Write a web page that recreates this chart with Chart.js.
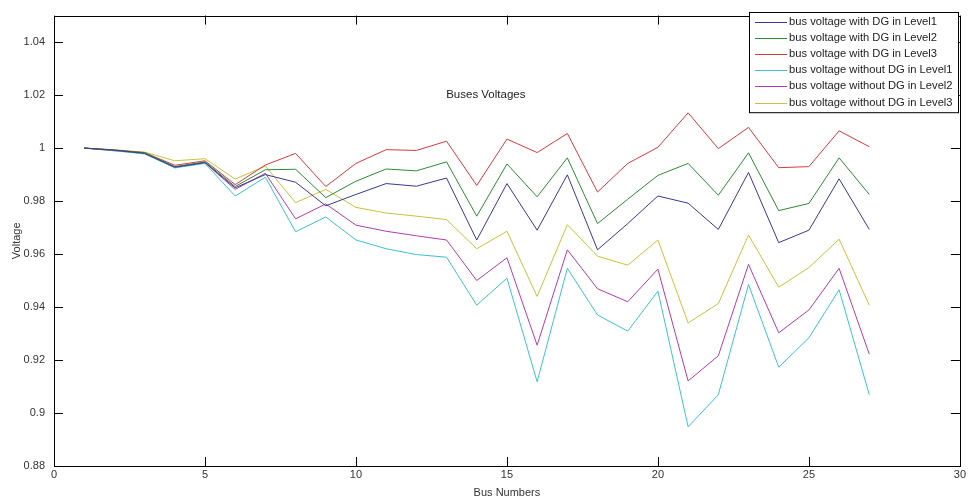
<!DOCTYPE html>
<html>
<head>
<meta charset="utf-8">
<script src="https://cdn.jsdelivr.net/npm/chart.js@4.4.1/dist/chart.umd.min.js"></script>
<style>
  html, body { margin: 0; padding: 0; background: #fff; }
  #wrap { width: 968px; height: 504px; }
</style>
</head>
<body>
<div id="wrap"><canvas id="busChart" width="968" height="504"></canvas></div>
<script>
// bus numbers
const buses = [1, 2, 3, 4, 5, 6, 7, 8, 9, 10, 11, 12, 13, 14, 15, 16, 17, 18, 19, 20, 21, 22, 23, 24, 25, 26, 27];

// voltages
const withDG1 = [1.0, 0.9992, 0.998, 0.9928, 0.9945, 0.985, 0.990, 0.9871, 0.9782, 0.9825, 0.9866, 0.9856, 0.9887, 0.9653, 0.9866, 0.969, 0.9899, 0.9616, 0.9715, 0.9819, 0.9792, 0.9693, 0.9908, 0.9643, 0.969, 0.9884, 0.9693];
const withDG2 = [1.0, 0.9992, 0.9982, 0.993, 0.9948, 0.9855, 0.9918, 0.992, 0.9813, 0.9875, 0.9921, 0.9914, 0.9948, 0.9743, 0.994, 0.9816, 0.9963, 0.9715, 0.9807, 0.9897, 0.9942, 0.9822, 0.9982, 0.9764, 0.9791, 0.9963, 0.9825];
const withDG3 = [1.0, 0.9993, 0.9983, 0.9935, 0.9952, 0.9862, 0.9936, 0.998, 0.9855, 0.9942, 0.9994, 0.9991, 1.0026, 0.9859, 1.0034, 0.9983, 1.0055, 0.9834, 0.9942, 1.0003, 1.0133, 0.9998, 1.0078, 0.9926, 0.993, 1.0065, 1.0005];
const withoutDG1 = [1.0, 0.999, 0.9978, 0.9925, 0.9942, 0.9819, 0.989, 0.9684, 0.974, 0.9653, 0.962, 0.9598, 0.9588, 0.9407, 0.9509, 0.9118, 0.9546, 0.937, 0.9309, 0.946, 0.8948, 0.9069, 0.9485, 0.9173, 0.9284, 0.9465, 0.9069];
const withoutDG2 = [1.0, 0.999, 0.998, 0.9927, 0.9945, 0.9844, 0.9905, 0.9733, 0.9789, 0.9709, 0.9686, 0.9669, 0.9653, 0.95, 0.9586, 0.9256, 0.9616, 0.9469, 0.942, 0.9543, 0.9121, 0.9216, 0.9561, 0.9303, 0.9389, 0.9546, 0.9222];
const withoutDG3 = [1.0, 0.9993, 0.9985, 0.9952, 0.996, 0.9883, 0.9932, 0.9794, 0.9844, 0.9776, 0.9755, 0.9743, 0.973, 0.962, 0.9686, 0.944, 0.9711, 0.9592, 0.9558, 0.9653, 0.934, 0.9413, 0.9672, 0.9475, 0.9549, 0.9656, 0.9407];

const seriesLabels = [
  'bus voltage with DG in Level1',
  'bus voltage with DG in Level2',
  'bus voltage with DG in Level3',
  'bus voltage without DG in Level1',
  'bus voltage without DG in Level2',
  'bus voltage without DG in Level3'
];
const seriesData = [withDG1, withDG2, withDG3, withoutDG1, withoutDG2, withoutDG3];
const seriesColors = ['#38388c', '#2f8a34', '#d8393f', '#3cc3cf', '#b03cb0', '#c8c43a'];

// axis ticks
const xTicks = [0, 5, 10, 15, 20, 25, 30];
const yTicks = [0.88, 0.9, 0.92, 0.94, 0.96, 0.98, 1, 1.02, 1.04];

const FONT = '"Liberation Sans", Arial, sans-serif';

const datasets = seriesData.map((vals, i) => ({
  label: seriesLabels[i],
  data: vals.map((v, j) => ({ x: buses[j], y: v })),
  borderColor: seriesColors[i],
  backgroundColor: seriesColors[i],
  borderWidth: 1,
  pointRadius: 0,
  tension: 0,
  fill: false
}));

// box, inward ticks, title and legend like matlab
const matlabAxes = {
  id: 'matlabAxes',
  afterDraw(chart) {
    const ctx = chart.ctx;
    const a = chart.chartArea;
    const xs = chart.scales.x, ys = chart.scales.y;
    ctx.save();
    ctx.strokeStyle = '#000';
    ctx.lineWidth = 1;
    ctx.strokeRect(Math.round(a.left) + 0.5, Math.round(a.top) + 0.5, Math.round(a.right - a.left), Math.round(a.bottom - a.top));
    ctx.beginPath();
    const tl = 9;
    xTicks.forEach(t => {
      const px = Math.round(xs.getPixelForValue(t)) + 0.5;
      ctx.moveTo(px, a.bottom); ctx.lineTo(px, a.bottom - tl);
      ctx.moveTo(px, a.top); ctx.lineTo(px, a.top + tl);
    });
    yTicks.forEach(t => {
      const py = Math.round(ys.getPixelForValue(t)) + 0.5;
      ctx.moveTo(a.left, py); ctx.lineTo(a.left + tl, py);
      ctx.moveTo(a.right, py); ctx.lineTo(a.right - tl, py);
    });
    ctx.stroke();

    // title sits inside the axes
    ctx.fillStyle = '#222';
    ctx.font = '11.5px ' + FONT;
    ctx.textAlign = 'center';
    ctx.textBaseline = 'middle';
    ctx.fillText('Buses Voltages', xs.getPixelForValue(14.3), ys.getPixelForValue(1.02));

    // legend box top right
    ctx.font = '11.2px ' + FONT;
    const bx = 749, by = 12, bw = 209, rowH = 16.2;
    const bh = rowH * chart.data.datasets.length + 3;
    ctx.fillStyle = '#fff';
    ctx.fillRect(bx, by, bw, bh);
    ctx.strokeStyle = '#000';
    ctx.strokeRect(bx + 0.5, by + 0.5, bw, bh);
    ctx.textAlign = 'left';
    chart.data.datasets.forEach((ds, i) => {
      const cy = by + 9.5 + i * rowH;
      ctx.strokeStyle = ds.borderColor;
      ctx.beginPath();
      ctx.moveTo(755, Math.round(cy) + 0.5);
      ctx.lineTo(787, Math.round(cy) + 0.5);
      ctx.stroke();
      ctx.fillStyle = '#222';
      ctx.fillText(ds.label, 789, cy);
    });
    ctx.restore();
  }
};

new Chart(document.getElementById('busChart'), {
  type: 'line',
  data: { datasets: datasets },
  options: {
    responsive: false,
    animation: false,
    layout: { padding: { left: 0, right: 6, top: 6, bottom: 0 } },
    plugins: {
      legend: { display: false },
      title: { display: false },
      tooltip: { enabled: false }
    },
    scales: {
      x: {
        type: 'linear',
        min: 0,
        max: 30,
        afterBuildTicks: s => { s.ticks = xTicks.map(v => ({ value: v })); },
        afterFit: s => { s.height = 38; },
        grid: { display: false, drawTicks: false, tickLength: 0 },
        border: { display: false },
        ticks: { color: '#333', padding: 2, font: { family: FONT, size: 11 }, maxRotation: 0, callback: v => String(v) },
        title: { display: true, text: 'Bus Numbers', color: '#333', padding: { top: 0, bottom: 4 }, font: { family: FONT, size: 11 } }
      },
      y: {
        type: 'linear',
        min: 0.88,
        max: 1.05,
        afterBuildTicks: s => { s.ticks = yTicks.map(v => ({ value: v })); },
        afterFit: s => { s.width = 54; },
        grid: { display: false, drawTicks: false, tickLength: 0 },
        border: { display: false },
        ticks: { color: '#333', padding: 9, font: { family: FONT, size: 11 }, callback: v => String(parseFloat(v.toFixed(2))) },
        title: { display: true, text: 'Voltage', color: '#333', padding: { top: 10, bottom: 0 }, font: { family: FONT, size: 11 } }
      }
    }
  },
  plugins: [matlabAxes]
});
</script>
</body>
</html>
